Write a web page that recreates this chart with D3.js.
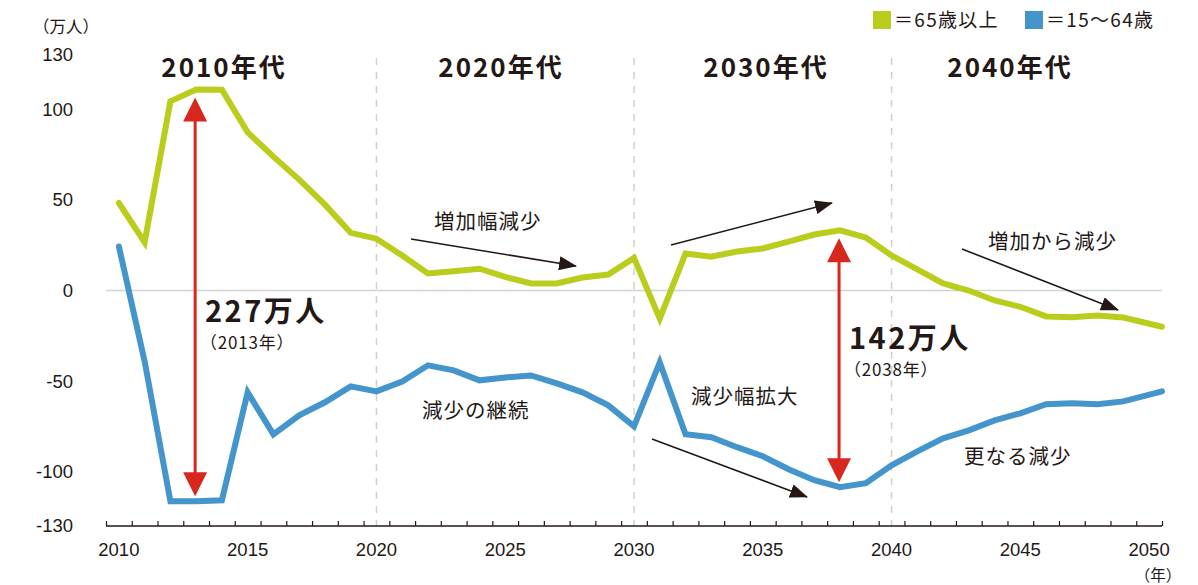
<!DOCTYPE html>
<html><head><meta charset="utf-8">
<script src="https://cdn.jsdelivr.net/npm/d3@7"></script>
<style>
html,body{margin:0;padding:0;background:#fff;}
svg{display:block;}
text{fill:#231815;}
.cjk{font-family:"Noto Sans CJK JP","Noto Sans",sans-serif;}
.num{font-family:"Liberation Sans",Arial,sans-serif;}
</style></head>
<body>
<svg id="chart" width="1198" height="585"></svg>
<script>
const years = [2010,2011,2012,2013,2014,2015,2016,2017,2018,2019,
  2020,2021,2022,2023,2024,2025,2026,2027,2028,2029,
  2030,2031,2032,2033,2034,2035,2036,2037,2038,2039,
  2040,2041,2042,2043,2044,2045,2046,2047,2048,2049,2050];
// 65歳以上 (万人)
const elderly = [48.3,26.6,104.4,111.0,110.8,87.3,73.9,61.2,47.4,31.8,
  28.6,19.3,9.4,10.6,12.0,7.5,3.9,3.9,7.2,8.8,
  18.0,-15.5,20.4,18.7,21.5,23.2,27.0,30.9,33.2,29.2,
  19.3,11.6,3.9,0.0,-5.5,-9.0,-14.3,-14.7,-13.8,-14.9,-20.0];
// 15〜64歳 (万人)
const working = [24.3,-39.1,-116.3,-116.3,-115.8,-56.2,-79.4,-68.9,-61.7,-52.9,
  -55.7,-50.2,-41.3,-44.1,-49.6,-48.0,-46.9,-51.3,-56.2,-63.4,
  -75.0,-39.7,-79.4,-81.0,-86.5,-91.5,-98.7,-104.7,-108.6,-106.4,
  -96.5,-88.8,-81.6,-77.2,-71.7,-67.8,-62.8,-62.3,-62.8,-61.2,-55.7];
const yTicks = [130,100,50,0,-50,-100,-130];
const xLabels = [2010,2015,2020,2025,2030,2035,2040,2045,2050];
const decadeLines = [2020,2030,2040];
const decades = ["2010年代","2020年代","2030年代","2040年代"];
const legendLabels = ["＝65歳以上","＝15〜64歳"];
const gapYears = [2013,2038];
const gapLabels = ["227万人","142万人"];
const gapSubLabels = ["（2013年）","（2038年）"];

const GREEN="#bacd1d", BLUE="#4395cc", RED="#d8271e", INK="#231815";
const svg = d3.select("#chart");
const x = d3.scaleLinear().domain([2009.5,2050.5]).range([106,1162]);
const y = d3.scaleLinear().domain([-130,130]).range([526,55]);
const n = years.length;
const px = (yr,i) => i===n-1 ? x.range()[1] : x(yr);

// defs: arrowheads
const defs = svg.append("defs");
defs.append("marker").attr("id","blk").attr("viewBox","0 0 18 14").attr("refX",17).attr("refY",7)
  .attr("markerWidth",18).attr("markerHeight",14).attr("markerUnits","userSpaceOnUse").attr("orient","auto")
  .append("path").attr("d","M0,0 L18,7 L0,14 Z").attr("fill",INK);

// zero line
svg.append("line").attr("x1",x.range()[0]).attr("x2",x.range()[1]).attr("y1",y(0)).attr("y2",y(0))
  .attr("stroke","#d3d3d3").attr("stroke-width",1.5);

// decade dashed lines
svg.selectAll(".dl").data(decadeLines).join("line")
  .attr("x1",d=>x(d)).attr("x2",d=>x(d)).attr("y1",58).attr("y2",y(-130))
  .attr("stroke","#cfcfcf").attr("stroke-width",1.5).attr("stroke-dasharray","7,7");

// x axis
const xAxis = d3.axisBottom(x).tickValues(d3.range(2009.5,2051,1)).tickSize(-5).tickFormat("");
const gx = svg.append("g").attr("transform",`translate(0,${y(-130)})`).call(xAxis);
gx.select(".domain").attr("stroke",INK).attr("stroke-width",1.3).attr("d",`M${x.range()[0]},0H${x.range()[1]}`);
gx.selectAll(".tick line").attr("stroke",INK).attr("stroke-width",1.2);
svg.selectAll(".xl").data(xLabels).join("text").attr("class","num")
  .attr("x",d=>x(d)).attr("y",556).attr("text-anchor","middle").attr("font-size",18.5).text(d=>d);
svg.append("text").attr("class","cjk").attr("x",1158).attr("y",581).attr("text-anchor","middle")
  .attr("font-size",15.5).text("（年）");

// y labels
svg.selectAll(".yl").data(yTicks).join("text").attr("class","num")
  .attr("x",73).attr("y",d=>y(d)).attr("dy","0.35em").attr("text-anchor","end").attr("font-size",18.5).text(d=>d);
svg.append("text").attr("class","cjk").attr("x",33).attr("y",33).attr("font-size",16.5).text("（万人）");

// decade labels
const decX = [224,501,766,1010];
svg.selectAll(".dec").data(decades).join("text").attr("class","cjk")
  .attr("x",(d,i)=>decX[i]).attr("y",77).attr("text-anchor","middle")
  .attr("font-size",26).attr("font-weight","bold").attr("letter-spacing",2).text(d=>d);

// legend
const lg = svg.append("g");
const legColors=[GREEN,BLUE], legX=[873,1025];
legendLabels.forEach((t,i)=>{
  lg.append("rect").attr("x",legX[i]).attr("y",11).attr("width",18).attr("height",18).attr("fill",legColors[i]);
  lg.append("text").attr("class","cjk").attr("x",legX[i]+21).attr("y",27).attr("font-size",19)
    .attr("letter-spacing",1.3).text(t);
});

// lines
const line = d3.line().x(d=>d[0]).y(d=>y(d[1]));
[[elderly,GREEN],[working,BLUE]].forEach(([vals,col])=>{
  svg.append("path").datum(vals.map((v,i)=>[px(years[i],i),v]))
    .attr("d",line).attr("fill","none").attr("stroke",col).attr("stroke-width",6)
    .attr("stroke-linejoin","miter").attr("stroke-linecap","round");
});

// red double arrows
gapYears.forEach((yr,k)=>{
  const i = years.indexOf(yr);
  const cx = x(yr) - 1;
  const top = y(elderly[i]) + 8, bot = y(working[i]) - 5;
  const g = svg.append("g");
  g.append("line").attr("x1",cx).attr("x2",cx).attr("y1",top+20).attr("y2",bot-20)
    .attr("stroke",RED).attr("stroke-width",3);
  g.append("path").attr("d",`M${cx},${top} L${cx+12},${top+24} L${cx-12},${top+24} Z`).attr("fill",RED);
  g.append("path").attr("d",`M${cx},${bot} L${cx+12},${bot-24} L${cx-12},${bot-24} Z`).attr("fill",RED);
});
const gapPos = [[205,322,349],[849,349,376]];
gapLabels.forEach((t,k)=>{
  svg.append("text").attr("class","cjk").attr("x",gapPos[k][0]).attr("y",gapPos[k][1])
    .attr("font-size",29).attr("font-weight","bold").attr("letter-spacing",2.5).text(t);
  svg.append("text").attr("class","cjk").attr("x",gapPos[k][0]-5).attr("y",gapPos[k][2])
    .attr("font-size",17).attr("letter-spacing",0.8).text(gapSubLabels[k]);
});

// annotations
const notes = [
  {t:"増加幅減少", x:434, y:229},
  {t:"増加から減少", x:988, y:249},
  {t:"減少の継続", x:422, y:418},
  {t:"減少幅拡大", x:691, y:404},
  {t:"更なる減少", x:964, y:464}
];
svg.selectAll(".note").data(notes).join("text").attr("class","cjk")
  .attr("x",d=>d.x).attr("y",d=>d.y).attr("font-size",20.5).attr("letter-spacing",1).text(d=>d.t);
const arrows = [
  [411,239,576,266],
  [671,245,832,203],
  [962,249,1118,310],
  [652,439,807,497]
];
svg.selectAll(".arr").data(arrows).join("line")
  .attr("x1",d=>d[0]).attr("y1",d=>d[1]).attr("x2",d=>d[2]).attr("y2",d=>d[3])
  .attr("stroke",INK).attr("stroke-width",1.6).attr("marker-end","url(#blk)");
</script>
</body></html>
